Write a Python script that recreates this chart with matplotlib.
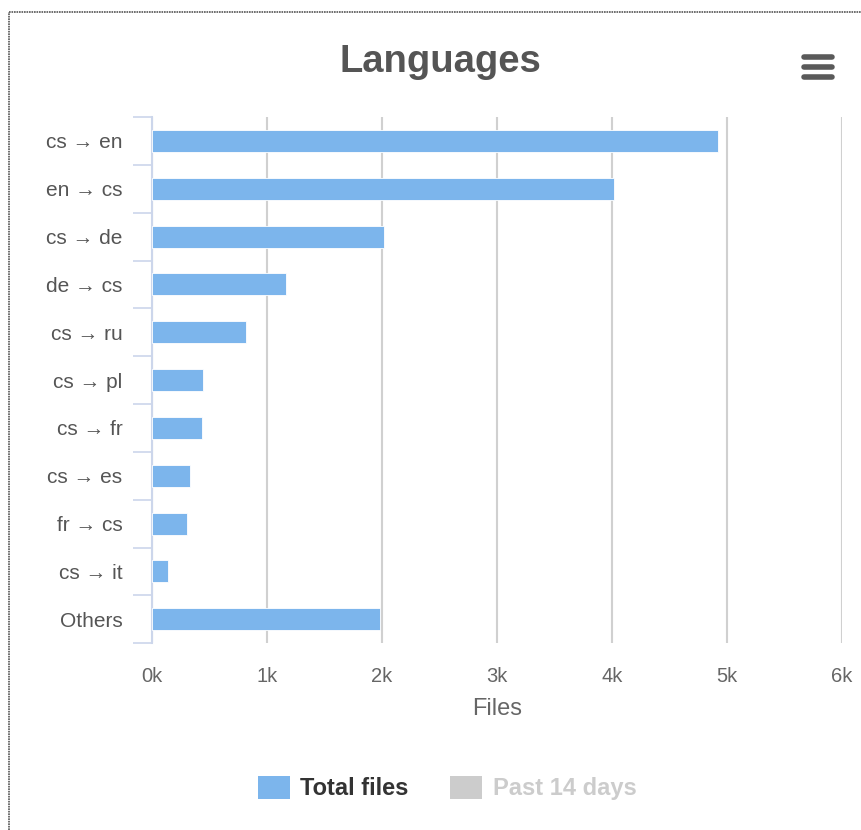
import matplotlib.pyplot as plt
from matplotlib.patches import Rectangle
from matplotlib.lines import Line2D

categories = ["cs → en", "en → cs", "cs → de", "de → cs", "cs → ru", "cs → pl",
              "cs → fr", "cs → es", "fr → cs", "cs → it", "Others"]
total_files = [4920, 4020, 2020, 1170, 820, 450, 440, 330, 310, 140, 1980]
x_ticks = [0, 1000, 2000, 3000, 4000, 5000, 6000]
x_labels = ["0k", "1k", "2k", "3k", "4k", "5k", "6k"]

plt.rcParams['font.family'] = ['Liberation Sans', 'DejaVu Sans']

fig = plt.figure(figsize=(8.62, 8.30), dpi=100)
ax = fig.add_axes([0.176, 0.225, 0.801, 0.634])

ypos = list(range(len(categories)))
ax.barh(ypos, total_files, height=0.46, color="#7cb5ec", edgecolor="#ffffff",
        linewidth=0.6, zorder=3)

ax.set_xlim(0, 6000)
ax.set_ylim(len(categories) - 0.5, -0.5)
ax.set_xticks(x_ticks)
ax.set_xticklabels(x_labels)
ax.set_yticks(ypos)
ax.set_yticklabels(categories)

# category boundary ticks on the y axis
ax.set_yticks([i - 0.5 for i in range(len(categories) + 1)], minor=True)
ax.tick_params(axis='y', which='major', length=0, pad=21, labelsize=15, labelcolor="#555555")
ax.tick_params(axis='y', which='minor', length=14, width=1.2, color="#ccd6eb")
ax.tick_params(axis='x', which='major', length=0, pad=17, labelsize=14.5, labelcolor="#666666")

ax.grid(axis='x', color="#d0d0d0", linewidth=1.5, zorder=0)
for side in ["top", "right", "bottom"]:
    ax.spines[side].set_visible(False)
ax.spines["left"].set_color("#ccd6eb")
ax.spines["left"].set_linewidth(1.5)

ax.set_xlabel("Files", fontsize=17, color="#666666", labelpad=9)

fig.text(0.511, 0.925, "Languages", ha="center", va="center", fontsize=27.5,
         fontweight="bold", color="#555555")

# menu icon
for yy in [57, 67, 77]:
    fig.add_artist(Line2D([804 / 862, 832 / 862], [1 - yy / 830, 1 - yy / 830],
                          color="#5a5a5a", linewidth=4.0, solid_capstyle="round"))

# container border (left and top)
fig.add_artist(Line2D([9 / 862, 9 / 862], [0, 1 - 12 / 830], color="#555555",
                      linewidth=1.2, linestyle=(0, (1, 0.5))))
fig.add_artist(Line2D([9 / 862, 1], [1 - 12 / 830, 1 - 12 / 830], color="#555555",
                      linewidth=1.2, linestyle=(0, (1, 0.5))))

# legend
ly = 1 - 788 / 830
fig.add_artist(Rectangle((258 / 862, ly - 11 / 830), 32 / 862, 23 / 830,
                         facecolor="#7cb5ec", edgecolor="none"))
fig.text(300 / 862, ly, "Total files", ha="left", va="center", fontsize=17,
         fontweight="bold", color="#333333")
fig.add_artist(Rectangle((450 / 862, ly - 11 / 830), 32 / 862, 23 / 830,
                         facecolor="#cccccc", edgecolor="none"))
fig.text(493 / 862, ly, "Past 14 days", ha="left", va="center", fontsize=17,
         fontweight="bold", color="#cccccc")

fig.savefig("out.png", dpi=100, facecolor="white")
